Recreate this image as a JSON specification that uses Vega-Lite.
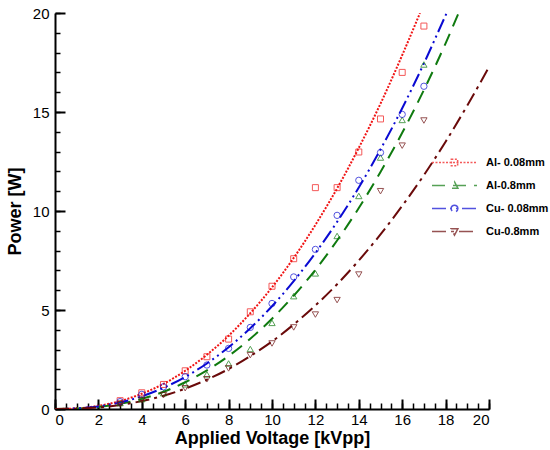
{
  "$schema": "https://vega.github.io/schema/vega-lite/v6.json",
  "width": 434,
  "height": 396,
  "autosize": {"type": "none"},
  "padding": {"left": 55, "top": 13, "right": 61, "bottom": 41},
  "datasets": {
    "curves": [
      {"voltage": 0, "power": 0, "series": "Al- 0.08mm"},
      {"voltage": 1, "power": 0.03, "series": "Al- 0.08mm"},
      {"voltage": 2, "power": 0.16, "series": "Al- 0.08mm"},
      {"voltage": 3, "power": 0.4, "series": "Al- 0.08mm"},
      {"voltage": 4, "power": 0.77, "series": "Al- 0.08mm"},
      {"voltage": 5, "power": 1.27, "series": "Al- 0.08mm"},
      {"voltage": 6, "power": 1.93, "series": "Al- 0.08mm"},
      {"voltage": 7, "power": 2.74, "series": "Al- 0.08mm"},
      {"voltage": 8, "power": 3.7, "series": "Al- 0.08mm"},
      {"voltage": 9, "power": 4.84, "series": "Al- 0.08mm"},
      {"voltage": 10, "power": 6.14, "series": "Al- 0.08mm"},
      {"voltage": 11, "power": 7.63, "series": "Al- 0.08mm"},
      {"voltage": 12, "power": 9.3, "series": "Al- 0.08mm"},
      {"voltage": 13, "power": 11.14, "series": "Al- 0.08mm"},
      {"voltage": 14, "power": 13.19, "series": "Al- 0.08mm"},
      {"voltage": 15, "power": 15.42, "series": "Al- 0.08mm"},
      {"voltage": 16, "power": 17.87, "series": "Al- 0.08mm"},
      {"voltage": 16.82, "power": 20, "series": "Al- 0.08mm"},
      {"voltage": 0, "power": 0, "series": "Al-0.8mm"},
      {"voltage": 1, "power": 0.02, "series": "Al-0.8mm"},
      {"voltage": 2, "power": 0.1, "series": "Al-0.8mm"},
      {"voltage": 3, "power": 0.26, "series": "Al-0.8mm"},
      {"voltage": 4, "power": 0.51, "series": "Al-0.8mm"},
      {"voltage": 5, "power": 0.87, "series": "Al-0.8mm"},
      {"voltage": 6, "power": 1.35, "series": "Al-0.8mm"},
      {"voltage": 7, "power": 1.95, "series": "Al-0.8mm"},
      {"voltage": 8, "power": 2.68, "series": "Al-0.8mm"},
      {"voltage": 9, "power": 3.55, "series": "Al-0.8mm"},
      {"voltage": 10, "power": 4.56, "series": "Al-0.8mm"},
      {"voltage": 11, "power": 5.72, "series": "Al-0.8mm"},
      {"voltage": 12, "power": 7.03, "series": "Al-0.8mm"},
      {"voltage": 13, "power": 8.51, "series": "Al-0.8mm"},
      {"voltage": 14, "power": 10.15, "series": "Al-0.8mm"},
      {"voltage": 15, "power": 11.97, "series": "Al-0.8mm"},
      {"voltage": 16, "power": 13.95, "series": "Al-0.8mm"},
      {"voltage": 17, "power": 16.11, "series": "Al-0.8mm"},
      {"voltage": 18, "power": 18.47, "series": "Al-0.8mm"},
      {"voltage": 18.6, "power": 20, "series": "Al-0.8mm"},
      {"voltage": 0, "power": 0, "series": "Cu- 0.08mm"},
      {"voltage": 1, "power": 0.03, "series": "Cu- 0.08mm"},
      {"voltage": 2, "power": 0.13, "series": "Cu- 0.08mm"},
      {"voltage": 3, "power": 0.33, "series": "Cu- 0.08mm"},
      {"voltage": 4, "power": 0.64, "series": "Cu- 0.08mm"},
      {"voltage": 5, "power": 1.07, "series": "Cu- 0.08mm"},
      {"voltage": 6, "power": 1.62, "series": "Cu- 0.08mm"},
      {"voltage": 7, "power": 2.3, "series": "Cu- 0.08mm"},
      {"voltage": 8, "power": 3.12, "series": "Cu- 0.08mm"},
      {"voltage": 9, "power": 4.08, "series": "Cu- 0.08mm"},
      {"voltage": 10, "power": 5.19, "series": "Cu- 0.08mm"},
      {"voltage": 11, "power": 6.46, "series": "Cu- 0.08mm"},
      {"voltage": 12, "power": 7.88, "series": "Cu- 0.08mm"},
      {"voltage": 13, "power": 9.45, "series": "Cu- 0.08mm"},
      {"voltage": 14, "power": 11.19, "series": "Cu- 0.08mm"},
      {"voltage": 15, "power": 13.11, "series": "Cu- 0.08mm"},
      {"voltage": 16, "power": 15.19, "series": "Cu- 0.08mm"},
      {"voltage": 17, "power": 17.45, "series": "Cu- 0.08mm"},
      {"voltage": 18, "power": 19.88, "series": "Cu- 0.08mm"},
      {"voltage": 18.05, "power": 20, "series": "Cu- 0.08mm"},
      {"voltage": 0, "power": 0, "series": "Cu-0.8mm"},
      {"voltage": 1, "power": 0.02, "series": "Cu-0.8mm"},
      {"voltage": 2, "power": 0.08, "series": "Cu-0.8mm"},
      {"voltage": 3, "power": 0.2, "series": "Cu-0.8mm"},
      {"voltage": 4, "power": 0.4, "series": "Cu-0.8mm"},
      {"voltage": 5, "power": 0.67, "series": "Cu-0.8mm"},
      {"voltage": 6, "power": 1.03, "series": "Cu-0.8mm"},
      {"voltage": 7, "power": 1.48, "series": "Cu-0.8mm"},
      {"voltage": 8, "power": 2.02, "series": "Cu-0.8mm"},
      {"voltage": 9, "power": 2.67, "series": "Cu-0.8mm"},
      {"voltage": 10, "power": 3.41, "series": "Cu-0.8mm"},
      {"voltage": 11, "power": 4.27, "series": "Cu-0.8mm"},
      {"voltage": 12, "power": 5.23, "series": "Cu-0.8mm"},
      {"voltage": 13, "power": 6.3, "series": "Cu-0.8mm"},
      {"voltage": 14, "power": 7.5, "series": "Cu-0.8mm"},
      {"voltage": 15, "power": 8.82, "series": "Cu-0.8mm"},
      {"voltage": 16, "power": 10.26, "series": "Cu-0.8mm"},
      {"voltage": 17, "power": 11.81, "series": "Cu-0.8mm"},
      {"voltage": 18, "power": 13.5, "series": "Cu-0.8mm"},
      {"voltage": 19, "power": 15.33, "series": "Cu-0.8mm"},
      {"voltage": 20, "power": 17.27, "series": "Cu-0.8mm"}
    ],
    "points": [
      {"voltage": 3, "power": 0.42, "series": "Al- 0.08mm"},
      {"voltage": 4, "power": 0.82, "series": "Al- 0.08mm"},
      {"voltage": 5, "power": 1.24, "series": "Al- 0.08mm"},
      {"voltage": 6, "power": 1.93, "series": "Al- 0.08mm"},
      {"voltage": 7, "power": 2.64, "series": "Al- 0.08mm"},
      {"voltage": 8, "power": 3.53, "series": "Al- 0.08mm"},
      {"voltage": 9, "power": 4.91, "series": "Al- 0.08mm"},
      {"voltage": 10, "power": 6.2, "series": "Al- 0.08mm"},
      {"voltage": 11, "power": 7.59, "series": "Al- 0.08mm"},
      {"voltage": 12, "power": 11.18, "series": "Al- 0.08mm"},
      {"voltage": 13, "power": 11.18, "series": "Al- 0.08mm"},
      {"voltage": 14, "power": 12.98, "series": "Al- 0.08mm"},
      {"voltage": 15, "power": 14.65, "series": "Al- 0.08mm"},
      {"voltage": 16, "power": 17.0, "series": "Al- 0.08mm"},
      {"voltage": 17, "power": 19.34, "series": "Al- 0.08mm"},
      {"voltage": 3, "power": 0.3, "series": "Al-0.8mm"},
      {"voltage": 4, "power": 0.5, "series": "Al-0.8mm"},
      {"voltage": 5, "power": 0.8, "series": "Al-0.8mm"},
      {"voltage": 6, "power": 1.25, "series": "Al-0.8mm"},
      {"voltage": 7, "power": 1.75, "series": "Al-0.8mm"},
      {"voltage": 8, "power": 2.3, "series": "Al-0.8mm"},
      {"voltage": 9, "power": 3.03, "series": "Al-0.8mm"},
      {"voltage": 10, "power": 4.35, "series": "Al-0.8mm"},
      {"voltage": 11, "power": 5.7, "series": "Al-0.8mm"},
      {"voltage": 12, "power": 6.85, "series": "Al-0.8mm"},
      {"voltage": 13, "power": 8.74, "series": "Al-0.8mm"},
      {"voltage": 14, "power": 10.76, "series": "Al-0.8mm"},
      {"voltage": 15, "power": 12.7, "series": "Al-0.8mm"},
      {"voltage": 16, "power": 14.6, "series": "Al-0.8mm"},
      {"voltage": 17, "power": 17.4, "series": "Al-0.8mm"},
      {"voltage": 3, "power": 0.37, "series": "Cu- 0.08mm"},
      {"voltage": 4, "power": 0.74, "series": "Cu- 0.08mm"},
      {"voltage": 5, "power": 1.12, "series": "Cu- 0.08mm"},
      {"voltage": 6, "power": 1.63, "series": "Cu- 0.08mm"},
      {"voltage": 7, "power": 2.22, "series": "Cu- 0.08mm"},
      {"voltage": 8, "power": 3.06, "series": "Cu- 0.08mm"},
      {"voltage": 9, "power": 4.12, "series": "Cu- 0.08mm"},
      {"voltage": 10, "power": 5.33, "series": "Cu- 0.08mm"},
      {"voltage": 11, "power": 6.67, "series": "Cu- 0.08mm"},
      {"voltage": 12, "power": 8.06, "series": "Cu- 0.08mm"},
      {"voltage": 13, "power": 9.78, "series": "Cu- 0.08mm"},
      {"voltage": 14, "power": 11.55, "series": "Cu- 0.08mm"},
      {"voltage": 15, "power": 12.95, "series": "Cu- 0.08mm"},
      {"voltage": 16, "power": 14.88, "series": "Cu- 0.08mm"},
      {"voltage": 17, "power": 16.3, "series": "Cu- 0.08mm"},
      {"voltage": 3, "power": 0.25, "series": "Cu-0.8mm"},
      {"voltage": 4, "power": 0.45, "series": "Cu-0.8mm"},
      {"voltage": 5, "power": 0.7, "series": "Cu-0.8mm"},
      {"voltage": 6, "power": 1.05, "series": "Cu-0.8mm"},
      {"voltage": 7, "power": 1.5, "series": "Cu-0.8mm"},
      {"voltage": 8, "power": 2.05, "series": "Cu-0.8mm"},
      {"voltage": 9, "power": 2.72, "series": "Cu-0.8mm"},
      {"voltage": 10, "power": 3.31, "series": "Cu-0.8mm"},
      {"voltage": 11, "power": 4.12, "series": "Cu-0.8mm"},
      {"voltage": 12, "power": 4.77, "series": "Cu-0.8mm"},
      {"voltage": 13, "power": 5.5, "series": "Cu-0.8mm"},
      {"voltage": 14, "power": 6.79, "series": "Cu-0.8mm"},
      {"voltage": 15, "power": 11.0, "series": "Cu-0.8mm"},
      {"voltage": 16, "power": 13.3, "series": "Cu-0.8mm"},
      {"voltage": 17, "power": 14.57, "series": "Cu-0.8mm"}
    ]
  },
  "layer": [
    {
      "data": {"name": "curves"},
      "mark": {"type": "line", "interpolate": "monotone", "strokeWidth": 2, "clip": true},
      "encoding": {
        "x": {
          "field": "voltage", "type": "quantitative",
          "scale": {"domain": [0, 20], "nice": false},
          "axis": {
            "title": "Applied Voltage [kVpp]",
            "values": [0, 2, 4, 6, 8, 10, 12, 14, 16, 18, 20],
            "tickColor": "transparent", "gridColor": "transparent", "labelPadding": -2,
            "titleY": 29, "titleBaseline": "middle"
          }
        },
        "y": {
          "field": "power", "type": "quantitative",
          "scale": {"domain": [0, 20], "nice": false},
          "axis": {
            "title": "Power [W]",
            "values": [0, 5, 10, 15, 20],
            "tickColor": "transparent", "gridColor": "transparent", "labelPadding": 1,
            "titleX": -40, "titleBaseline": "middle"
          }
        },
        "color": {
          "field": "series", "type": "nominal",
          "scale": {
            "domain": ["Al- 0.08mm", "Al-0.8mm", "Cu- 0.08mm", "Cu-0.8mm"],
            "range": ["#f01414", "#0f7a0f", "#0a0ad2", "#6a0a0a"]
          },
          "legend": {"title": null}
        },
        "strokeDash": {
          "field": "series", "type": "nominal",
          "scale": {
            "domain": ["Al- 0.08mm", "Al-0.8mm", "Cu- 0.08mm", "Cu-0.8mm"],
            "range": [[2, 1.5], [13, 8], [14, 4, 2, 4, 2, 4], [14, 5, 3, 5]]
          },
          "legend": {"title": null}
        }
      }
    },
    {
      "data": {"name": "points"},
      "transform": [{"filter": {"field": "series", "equal": "Al- 0.08mm"}}],
      "mark": {"type": "point", "shape": "square", "size": 36, "strokeWidth": 1, "filled": false},
      "encoding": {
        "x": {
          "field": "voltage", "type": "quantitative",
          "axis": {
            "title": null, "labels": false, "domain": false, "gridColor": "transparent",
            "orient": "top", "offset": -396,
            "tickCount": 40, "tickSize": 6, "tickWidth": 1.5, "tickColor": "black"
          }
        },
        "y": {
          "field": "power", "type": "quantitative",
          "axis": {
            "title": null, "labels": false, "domain": false, "gridColor": "transparent",
            "orient": "right", "offset": -434,
            "tickCount": 20, "tickSize": 5, "tickWidth": 1.5, "tickColor": "black"
          }
        },
        "color": {"field": "series", "type": "nominal", "legend": {"title": null}}
      }
    },
    {
      "data": {"name": "points"},
      "transform": [{"filter": {"field": "series", "equal": "Al-0.8mm"}}],
      "mark": {"type": "point", "shape": "triangle-up", "size": 40, "strokeWidth": 1, "filled": false},
      "encoding": {
        "x": {
          "field": "voltage", "type": "quantitative",
          "axis": {
            "title": null, "labels": false, "domain": false, "gridColor": "transparent",
            "orient": "top", "offset": -396,
            "tickCount": 10, "tickSize": 10, "tickWidth": 2, "tickColor": "black"
          }
        },
        "y": {
          "field": "power", "type": "quantitative",
          "axis": {
            "title": null, "labels": false, "domain": false, "gridColor": "transparent",
            "orient": "right", "offset": -434,
            "tickCount": 4, "tickSize": 10, "tickWidth": 2, "tickColor": "black"
          }
        },
        "color": {"field": "series", "type": "nominal", "legend": {"title": null}}
      }
    },
    {
      "data": {"name": "points"},
      "transform": [{"filter": {"field": "series", "equal": "Cu- 0.08mm"}}],
      "mark": {"type": "point", "shape": "circle", "size": 40, "strokeWidth": 1, "filled": false},
      "encoding": {
        "x": {"field": "voltage", "type": "quantitative", "axis": null},
        "y": {"field": "power", "type": "quantitative", "axis": null},
        "color": {"field": "series", "type": "nominal", "legend": {"title": null}}
      }
    },
    {
      "data": {"name": "points"},
      "transform": [{"filter": {"field": "series", "equal": "Cu-0.8mm"}}],
      "mark": {"type": "point", "shape": "triangle-down", "size": 40, "strokeWidth": 1, "filled": false},
      "encoding": {
        "x": {"field": "voltage", "type": "quantitative", "axis": null},
        "y": {"field": "power", "type": "quantitative", "axis": null},
        "color": {"field": "series", "type": "nominal", "legend": {"title": null}}
      }
    },
    {
      "data": {"name": "points"},
      "transform": [{"filter": {"field": "power", "lt": -1}}],
      "mark": {"type": "point", "filled": false, "strokeWidth": 1.5},
      "encoding": {
        "x": {"field": "voltage", "type": "quantitative", "axis": null},
        "y": {"field": "power", "type": "quantitative", "axis": null},
        "color": {"field": "series", "type": "nominal", "legend": {"title": null}},
        "shape": {
          "field": "series", "type": "nominal",
          "scale": {
            "domain": ["Al- 0.08mm", "Al-0.8mm", "Cu- 0.08mm", "Cu-0.8mm"],
            "range": [
              "M-3,0H3M-0.42,-0.42H0.42V0.42H-0.42Z",
              "M-3,0H3M0,-0.48L0.45,0.36H-0.45Z",
              "M-3,0H3M-0.45,0A0.45,0.45 0 1,1 0.45,0A0.45,0.45 0 1,1 -0.45,0Z",
              "M-3,0H3M0,0.48L0.45,-0.36H-0.45Z"
            ]
          },
          "legend": {"title": null}
        }
      }
    }
  ],
  "resolve": {"axis": {"x": "independent", "y": "independent"}},
  "config": {
    "view": {"stroke": null},
    "axis": {
      "domainColor": "black", "domainWidth": 2,
      "labelFont": "Liberation Sans", "labelFontSize": 15, "labelColor": "black",
      "titleFont": "Liberation Sans", "titleFontSize": 18, "titleFontWeight": "bold", "titleColor": "black"
    },
    "legend": {
      "orient": "none", "legendX": 391, "legendY": 141,
      "symbolSize": 225, "symbolStrokeWidth": 1.5,
      "labelFont": "Liberation Sans", "labelFontSize": 11, "labelFontWeight": "bold", "labelColor": "black",
      "labelOffset": 23, "rowPadding": 8, "padding": 0
    }
  }
}
